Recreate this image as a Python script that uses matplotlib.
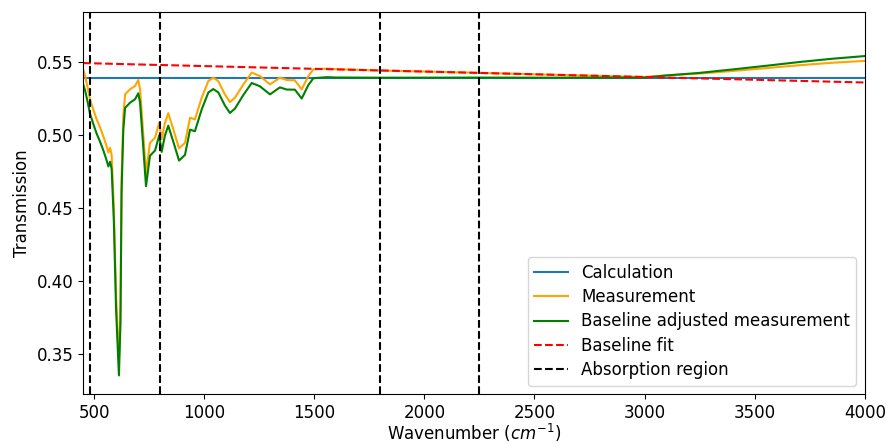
import numpy as np
import matplotlib.pyplot as plt

wavenumber = [450, 459, 470, 482, 497, 512, 527, 542, 555, 565, 573, 580, 590, 600, 613,
              620, 625, 633, 641, 663, 686, 701, 709, 721, 736, 754, 777, 796,
              807, 822, 837, 860, 886, 913, 936, 958, 989, 1019, 1041, 1064, 1094,
              1117, 1140, 1178, 1216, 1253, 1299, 1344, 1375, 1412, 1443, 1473,
              1496, 1556, 1600, 1800, 2000, 2250, 2500, 2750, 3000, 3100, 3250,
              3400, 3550, 3700, 3850, 4000]
measurement = [0.5447, 0.5405, 0.5330, 0.5240, 0.5170, 0.5104, 0.5050, 0.4990, 0.4930, 0.4878,
               0.4910, 0.4860, 0.4500, 0.3900, 0.3445,
               0.3800, 0.4700, 0.5127, 0.5276, 0.5310, 0.5333, 0.5374, 0.5310, 0.5058,
               0.4736, 0.4944, 0.4979, 0.5082,
               0.4968, 0.5080, 0.5147, 0.5036, 0.4906, 0.4944, 0.5116, 0.5104, 0.5253,
               0.5367, 0.5390, 0.5367, 0.5276,
               0.5223, 0.5253, 0.5344, 0.5425, 0.5401, 0.5344, 0.5390, 0.5374, 0.5372,
               0.5310, 0.5401,
               0.5447, 0.5452, 0.5448, 0.5439, 0.5432, 0.5423, 0.5413, 0.5404, 0.5395,
               0.5406, 0.5418,
               0.5436, 0.5455, 0.5475, 0.5492, 0.5505]

calculation_level = 0.539
baseline_x = [450, 4000]
baseline_y = [0.5490, 0.5357]
absorption_edges = [480, 800, 1800, 2250]

wn = np.array(wavenumber)
meas = np.array(measurement)
adjusted = meas - np.interp(wn, baseline_x, baseline_y) + calculation_level

fig, ax = plt.subplots(figsize=(8.87, 4.43), dpi=100)
fig.subplots_adjust(left=0.0936, right=0.975, top=0.973, bottom=0.1106)

ax.plot([450, 4000], [calculation_level, calculation_level], color='C0', lw=1.5, label='Calculation')
ax.plot(wn, meas, color='orange', lw=1.5, label='Measurement')
ax.plot(wn, adjusted, color='green', lw=1.5, label='Baseline adjusted measurement')
ax.plot(baseline_x, baseline_y, 'r--', lw=1.5, label='Baseline fit')
for i, e in enumerate(absorption_edges):
    ax.axvline(e, color='k', ls='--', lw=1.5, label='Absorption region' if i == 0 else None)

ax.set_xlim(450, 4000)
ax.set_ylim(0.3224, 0.584)
ax.set_xticks(np.arange(500, 4001, 500))
ax.set_yticks([0.35, 0.40, 0.45, 0.50, 0.55])
ax.tick_params(labelsize=12)
ax.set_xlabel('Wavenumber ($cm^{-1}$)', fontsize=12, labelpad=0)
ax.set_ylabel('Transmission', fontsize=12)
ax.legend(loc='lower right', fontsize=12, labelspacing=0.38)

fig.savefig('out.png', dpi=100)
